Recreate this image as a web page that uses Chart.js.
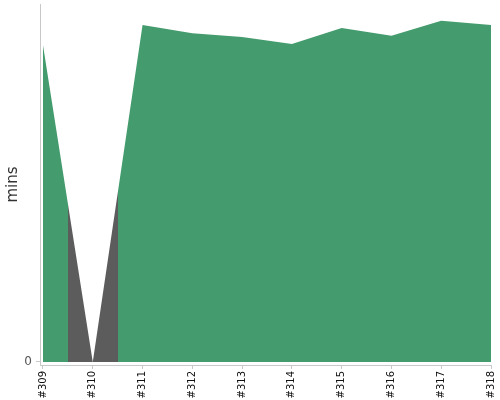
<!DOCTYPE html>
<html lang="en">
<head>
    <meta charset="UTF-8">
    <title>Build Time Trend</title>
    <script src="https://cdn.jsdelivr.net/npm/chart.js"></script>
    <style>
        body {
            margin: 0;
            background: #fff;
        }
        #wrap {
            width: 500px;
            height: 400px;
        }
    </style>
</head>
<body>
    <div id="wrap">
        <canvas id="durationChart" width="500" height="400"></canvas>
    </div>

    <script>
        // Build numbers along the x axis
        const builds = ['#309', '#310', '#311', '#312', '#313', '#314', '#315', '#316', '#317', '#318'];

        // Build duration (mins)
        const durations = [88.5, 0, 94.1, 91.8, 90.8, 88.8, 93.3, 91.1, 95.3, 94.1];

        // Builds drawn in the dark colour (failed ones)
        const failedBuilds = ['#310'];

        // Only tick shown on the y axis
        const yTicks = [0];

        const GREEN = '#449b6d';
        const GREY = '#5c5c5c';

        // Horizontal gradient with hard stops so that the area around a failed build is grey
        function areaColour(context) {
            const chart = context.chart;
            const area = chart.chartArea;
            const xScale = chart.scales.x;
            if (!area || !xScale) {
                return GREEN;
            }
            const width = area.right - area.left;
            const grad = chart.ctx.createLinearGradient(area.left, 0, area.right, 0);
            grad.addColorStop(0, GREEN);
            failedBuilds.forEach(label => {
                const i = builds.indexOf(label);
                const from = (xScale.getPixelForValue(i - 0.5) - area.left) / width;
                const to = (xScale.getPixelForValue(i + 0.5) - area.left) / width;
                const a = Math.min(Math.max(from, 0), 1);
                const b = Math.min(Math.max(to, 0), 1);
                grad.addColorStop(a, GREEN);
                grad.addColorStop(a, GREY);
                grad.addColorStop(b, GREY);
                grad.addColorStop(b, GREEN);
            });
            grad.addColorStop(1, GREEN);
            return grad;
        }

        const chart = new Chart(document.getElementById('durationChart').getContext('2d'), {
            type: 'line',
            data: {
                datasets: [{
                    label: 'Duration',
                    data: durations.map((v, i) => ({ x: i, y: v })),
                    backgroundColor: areaColour,
                    borderWidth: 0,
                    pointRadius: 0,
                    fill: 'origin',
                    tension: 0
                }]
            },
            options: {
                responsive: false,
                animation: false,
                layout: {
                    padding: { top: 4, right: 9, left: 0, bottom: 0 }
                },
                plugins: {
                    legend: { display: false },
                    tooltip: { enabled: false }
                },
                scales: {
                    x: {
                        type: 'linear',
                        min: -0.06,
                        max: builds.length - 1,
                        afterBuildTicks: scale => {
                            scale.ticks = builds.map((_, i) => ({ value: i }));
                        },
                        afterFit: scale => {
                            scale.height = 35;
                            scale.paddingLeft = 0;
                            scale.paddingRight = 0;
                        },
                        grid: {
                            drawOnChartArea: false,
                            drawTicks: true,
                            tickLength: 4,
                            color: '#c8c8c8'
                        },
                        border: {
                            display: true,
                            color: '#c8c8c8'
                        },
                        ticks: {
                            autoSkip: false,
                            minRotation: 90,
                            maxRotation: 90,
                            padding: 2,
                            color: '#111',
                            font: { family: 'DejaVu Sans', size: 10 },
                            callback: value => builds[value]
                        }
                    },
                    y: {
                        min: -0.84,
                        max: 100,
                        afterBuildTicks: scale => {
                            scale.ticks = yTicks.map(v => ({ value: v }));
                        },
                        afterFit: scale => {
                            scale.width = 40;
                            scale.paddingTop = 0;
                            scale.paddingBottom = 0;
                        },
                        grid: {
                            drawOnChartArea: false,
                            drawTicks: true,
                            tickLength: 4,
                            color: '#c8c8c8'
                        },
                        border: {
                            display: true,
                            color: '#c8c8c8'
                        },
                        ticks: {
                            padding: 4,
                            color: '#555',
                            font: { family: 'DejaVu Sans', size: 12 }
                        },
                        title: {
                            display: true,
                            text: 'mins',
                            color: '#333',
                            padding: { top: 4, bottom: 0 },
                            font: { family: 'DejaVu Sans', size: 15 }
                        }
                    }
                }
            }
        });
    </script>
</body>
</html>
